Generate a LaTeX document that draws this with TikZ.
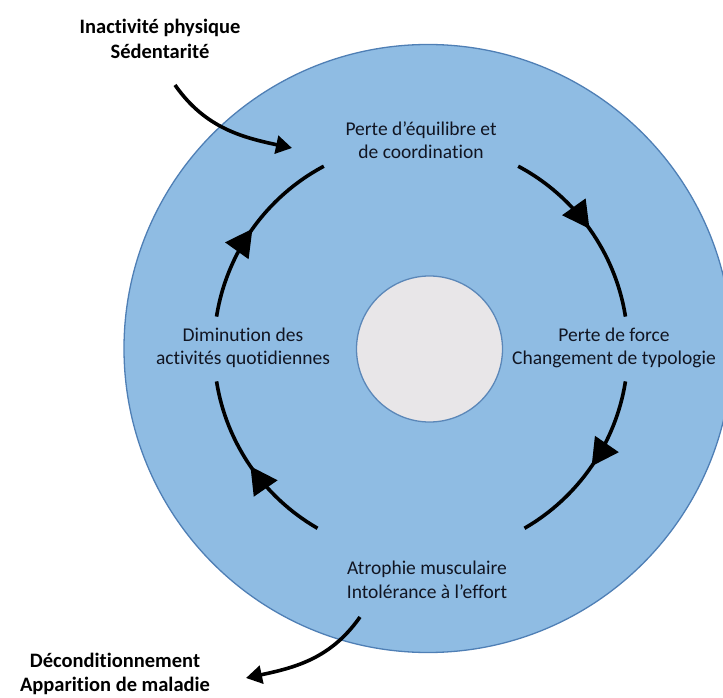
\documentclass[tikz,border=0pt]{standalone}
\usepackage{fontspec}
\setmainfont{Carlito}[Ligatures=NoCommon]
\usetikzlibrary{arrows.meta,decorations.markings}
\definecolor{bigfill}{HTML}{8FBCE3}
\definecolor{bigline}{HTML}{4F7FB5}
\definecolor{corefill}{HTML}{E8E6E8}
\definecolor{coreline}{HTML}{5B87B8}
\definecolor{txt}{HTML}{111522}
\tikzset{
  cyc/.style={line width=3.6pt, postaction={decorate},
    decoration={markings, mark=at position 0.5 with {\arrow{Triangle[length=27pt,width=28pt]}}}},
  ext/.style={line width=3.6pt, -{Triangle[length=16pt,width=18pt]}},
  lbl/.style={align=center, text=txt, font=\fontsize{19.5}{23.5}\selectfont, inner sep=0pt},
  outer/.style={align=center, text=black, font=\bfseries\fontsize{20.5}{24.5}\selectfont, inner sep=0pt},
}
\begin{document}
\begin{tikzpicture}[x=1pt,y=1pt]
\useasboundingbox (0,0) rectangle (723,697);
\clip (0,0) rectangle (723,697);
% circles
\draw[bigline, line width=1.3pt, fill=bigfill] (428,348.5) circle[radius=304];
\draw[coreline, line width=1.3pt, fill=corefill] (429.5,348) circle[radius=73];
% labels
\node[lbl] (nTop) at (421,557) {Perte d’équilibre et\\de coordination};
\node[lbl] (nRight) at (614,349) {Perte de force\\Changement de typologie};
\node[lbl] (nBottom) at (427,117) {Atrophie musculaire\\Intolérance à l’effort};
\node[lbl] (nLeft) at (243,349) {Diminution des\\activités quotidiennes};
\node[outer] (nIn) at (160,658) {Inactivité physique\\Sédentarité};
\node[outer] (nOut) at (115,23) {Déconditionnement\\Apparition de maladie};
% cycle arcs
\coordinate (c) at (421,348);
\path (c) ++(62:207) coordinate (a1s);
\path (c) ++(-9:207) coordinate (a2s);
\path (c) ++(240:207) coordinate (a3s);
\path (c) ++(171:207) coordinate (a4s);
\draw[cyc] (a1s) arc[start angle=62, end angle=9, radius=207];
\draw[cyc] (a2s) arc[start angle=-9, end angle=-60, radius=207];
\draw[cyc] (a3s) arc[start angle=240, end angle=189, radius=207];
\draw[cyc] (a4s) arc[start angle=171, end angle=118, radius=207];
% external arrows
\coordinate (inStart) at (175,612);
\coordinate (inEnd) at (292,549);
\draw[ext] (inStart) to[out=-55,in=168] (inEnd);
\coordinate (outStart) at (360,80);
\coordinate (outEnd) at (246,19);
\draw[ext] (outStart) to[out=-125,in=12] (outEnd);
\end{tikzpicture}
\end{document}
